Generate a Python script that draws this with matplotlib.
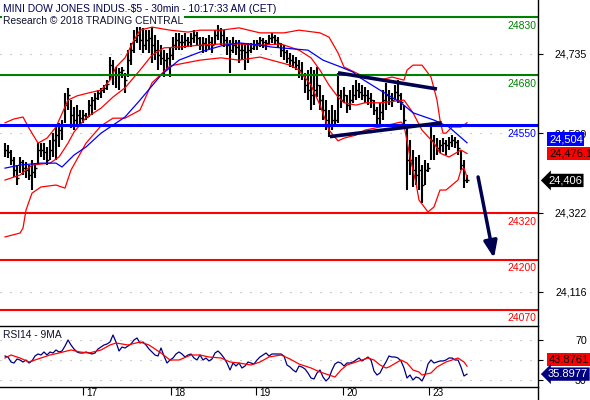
import matplotlib as mpl
import matplotlib.pyplot as plt
import matplotlib.transforms as mtransforms
from matplotlib.lines import Line2D
import numpy as np

mpl.rcParams['font.family'] = ['Liberation Sans', 'DejaVu Sans']

# 30min bars, mini dow
high = [24503, 24498, 24485, 24467, 24446, 24467, 24459, 24454, 24446, 24459,
        24451, 24503, 24503, 24503, 24493, 24511, 24529, 24545, 24556, 24563,
        24634, 24647, 24615, 24597, 24602, 24589, 24589, 24582, 24615, 24623,
        24634, 24641, 24647, 24654, 24667, 24727, 24719, 24701, 24699, 24701,
        24686, 24745, 24764, 24797, 24805, 24805, 24803, 24797, 24797, 24805,
        24784, 24771, 24758, 24745, 24738, 24751, 24779, 24790, 24790, 24784,
        24790, 24779, 24790, 24797, 24792, 24779, 24779, 24777, 24784, 24779,
        24797, 24810, 24803, 24797, 24779, 24771, 24779, 24771, 24771, 24764,
        24764, 24764, 24764, 24771, 24771, 24779, 24777, 24771, 24784, 24790,
        24784, 24779, 24764, 24758, 24745, 24738, 24732, 24727, 24719, 24714,
        24686, 24693, 24701, 24693, 24701, 24654, 24628, 24615, 24589, 24602,
        24589, 24686, 24641, 24649, 24628, 24641, 24654, 24667, 24660, 24654,
        24649, 24641, 24634, 24615, 24597, 24608, 24641, 24660, 24641, 24634,
        24654, 24667, 24634, 24602, 24550, 24511, 24485, 24467, 24472, 24446,
        24459, 24451, 24556, 24524, 24516, 24511, 24516, 24511, 24519, 24524,
        24519, 24511, 24485, 24459, 24420]
low = [24467, 24464, 24446, 24415, 24394, 24425, 24420, 24412, 24407, 24381,
       24412, 24446, 24467, 24459, 24446, 24459, 24467, 24459, 24493, 24511,
       24556, 24589, 24542, 24537, 24550, 24545, 24556, 24563, 24571, 24576,
       24589, 24615, 24621, 24634, 24641, 24667, 24654, 24647, 24641, 24673,
       24634, 24675, 24706, 24738, 24764, 24745, 24738, 24745, 24738, 24712,
       24719, 24693, 24706, 24675, 24693, 24675, 24719, 24745, 24745, 24745,
       24751, 24753, 24753, 24764, 24758, 24745, 24738, 24740, 24745, 24738,
       24758, 24771, 24758, 24753, 24732, 24686, 24738, 24732, 24712, 24719,
       24693, 24712, 24738, 24745, 24745, 24753, 24751, 24745, 24758, 24764,
       24758, 24753, 24727, 24719, 24712, 24701, 24699, 24693, 24673, 24667,
       24634, 24615, 24589, 24602, 24623, 24589, 24563, 24537, 24519, 24537,
       24550, 24556, 24595, 24608, 24582, 24589, 24608, 24615, 24621, 24615,
       24608, 24602, 24595, 24576, 24550, 24545, 24563, 24589, 24602, 24597,
       24615, 24608, 24589, 24545, 24381, 24420, 24389, 24394, 24381, 24347,
       24394, 24428, 24459, 24459, 24472, 24477, 24480, 24472, 24485, 24493,
       24490, 24472, 24433, 24386, 24399]
close = [24485, 24480, 24459, 24433, 24412, 24454, 24438, 24433, 24420, 24428,
         24438, 24485, 24485, 24480, 24459, 24485, 24511, 24524, 24537, 24550,
         24602, 24628, 24576, 24563, 24576, 24569, 24576, 24571, 24602, 24615,
         24621, 24634, 24641, 24647, 24657, 24706, 24693, 24680, 24688, 24693,
         24667, 24719, 24745, 24771, 24784, 24771, 24758, 24771, 24777, 24758,
         24745, 24732, 24725, 24719, 24725, 24732, 24758, 24771, 24766, 24766,
         24771, 24766, 24777, 24784, 24777, 24758, 24764, 24758, 24766, 24758,
         24784, 24797, 24784, 24771, 24758, 24745, 24758, 24753, 24745, 24745,
         24740, 24745, 24751, 24758, 24764, 24771, 24766, 24764, 24777, 24779,
         24771, 24764, 24745, 24740, 24725, 24719, 24714, 24706, 24693, 24680,
         24654, 24641, 24628, 24641, 24654, 24615, 24589, 24563, 24550, 24563,
         24563, 24628, 24615, 24628, 24602, 24615, 24628, 24641, 24636, 24628,
         24628, 24621, 24615, 24589, 24569, 24584, 24615, 24628, 24621, 24615,
         24636, 24628, 24610, 24563, 24459, 24459, 24433, 24420, 24433, 24394,
         24433, 24438, 24511, 24498, 24490, 24498, 24503, 24498, 24506, 24511,
         24506, 24490, 24446, 24407, 24406]

# bollinger bands and the slower average, read at a few bars
upper_i = [0, 3, 6, 8, 11, 14, 17, 21, 24, 28, 32, 35, 37, 40, 43, 45, 49, 55, 61, 65,
           72, 78, 85, 93, 98, 105, 108, 111, 113, 117, 120, 125, 129, 133, 134, 136,
           139, 142, 144, 145, 146, 147, 149, 152, 154]
upper_v = [24556, 24566, 24571, 24542, 24503, 24516, 24545, 24615, 24626, 24634,
           24641, 24667, 24701, 24725, 24771, 24797, 24805, 24797, 24792, 24797,
           24797, 24803, 24790, 24790, 24797, 24790, 24779, 24738, 24701, 24686,
           24675, 24667, 24675, 24667, 24693, 24706, 24706, 24675, 24615, 24563,
           24529, 24529, 24545, 24545, 24556]
mid_i = [0, 5, 9, 15, 18, 21, 23, 27, 32, 36, 40, 45, 49, 53, 58, 65, 72, 78, 85, 92,
         98, 102, 105, 108, 111, 113, 117, 120, 125, 133, 136, 139, 143, 145, 148, 152, 154]
mid_v = [24407, 24420, 24446, 24451, 24467, 24503, 24532, 24569, 24594, 24623,
         24647, 24693, 24732, 24751, 24753, 24758, 24761, 24761, 24758, 24761,
         24745, 24725, 24693, 24654, 24623, 24608, 24602, 24608, 24608, 24615,
         24582, 24537, 24503, 24477, 24467, 24485, 24476.1]
lower_i = [0, 5, 6, 7, 9, 12, 17, 20, 22, 27, 32, 36, 40, 45, 49, 55, 65, 72, 78, 85,
           95, 98, 102, 105, 108, 111, 113, 117, 120, 125, 132, 133, 135, 137, 138,
           141, 143, 145, 147, 151, 152, 153, 154]
lower_v = [24259, 24269, 24282, 24329, 24373, 24389, 24394, 24386, 24433, 24503,
           24548, 24568, 24568, 24589, 24660, 24704, 24719, 24725, 24719, 24727,
           24706, 24693, 24654, 24602, 24537, 24509, 24516, 24524, 24537, 24545,
           24558, 24550, 24467, 24399, 24355, 24324, 24337, 24381, 24381, 24407,
           24433, 24438, 24415]
ma_i = [0, 5, 12, 17, 19, 23, 27, 32, 36, 40, 45, 52, 58, 65, 72, 78, 85, 89, 101, 106,
        112, 116, 118, 125, 132, 136, 143, 148, 154]
ma_v = [24438, 24446, 24451, 24451, 24441, 24472, 24493, 24529, 24550, 24571,
        24615, 24680, 24719, 24740, 24756, 24764, 24758, 24753, 24745, 24719,
        24701, 24688, 24675, 24641, 24608, 24582, 24563, 24545, 24504]

rsi = [54, 53, 48, 47, 51, 50, 48, 50, 47, 49,
       54, 56, 55, 58, 55, 58, 57, 60, 58, 59,
       64, 70, 65, 61, 58, 57, 57, 58, 57, 56,
       57, 61, 63, 65, 66, 68, 75, 68, 59, 63,
       62, 64, 66, 70, 72, 67, 68, 65, 61, 58,
       55, 54, 62, 54, 47, 50, 52, 56, 58, 56,
       53, 55, 56, 52, 50, 55, 50, 52, 49, 51,
       57, 59, 56, 52, 47, 40, 47, 44, 47, 42,
       44, 48, 47, 46, 50, 53, 55, 57, 54, 56,
       56, 56, 56, 54, 45, 43, 40, 38, 44, 43,
       41, 37, 32, 31, 37, 40, 33, 29, 32, 40,
       46, 48, 47, 44, 47, 47, 48, 50, 52, 49,
       51, 53, 50, 39, 35, 37, 43, 48, 54, 53,
       53, 52, 49, 42, 32, 35, 30, 33, 32, 29,
       35, 46, 50, 47, 48, 49, 49, 50, 52, 52,
       50, 50, 43, 34, 35.8977]
rsi_ma_i = [0, 2, 5, 8, 12, 15, 18, 22, 25, 28, 32, 35, 37, 41, 45, 48, 52, 55, 58, 62,
            65, 68, 72, 75, 78, 82, 85, 88, 92, 95, 98, 102, 105, 108, 110, 112, 114,
            117, 121, 123, 125, 127, 128, 132, 134, 136, 138, 139, 142, 144, 147, 151,
            153, 154]
rsi_ma_v = [52, 55, 52, 48, 52, 55, 57, 60, 58, 57, 60, 65, 67, 65, 68, 65, 57, 50, 50, 55,
            55, 53, 52, 48, 47, 45, 48, 53, 55, 51, 46, 42, 38, 35, 33, 40, 45,
            48, 52, 50, 45, 42, 43, 50, 47, 40, 38, 35, 37, 43, 48, 52,
            48, 43.8761]

levels = [24830, 24680, 24550, 24320, 24200, 24070]
price_ticks = [24116, 24322, 24529, 24735]
day_pos = [26, 55.2, 83.7, 112.7, 141.4]
day_labels = ['17', '18', '19', '20', '23']

# analyst drawings
tri_top = ([111, 144], [24686, 24644])
tri_bottom = ([108.3, 145.6], [24520, 24556])
target_arrow = ([157.7, 163.0], [24415, 24204])

W, H = 590.0, 400.0
fig = plt.figure(figsize=(5.9, 4.0), dpi=100)
ax = fig.add_axes([0, 1 - 326 / H, 538 / W, 326 / H])
ax2 = fig.add_axes([0, 1 - 387 / H, 538 / W, 61 / H], sharex=ax)

x = np.arange(len(close))
ax.vlines(x, low, high, color='black', lw=1.5, zorder=2)
ax.hlines(close, x, x + 0.8, color='black', lw=1.0, zorder=2)

ax.plot(upper_i, upper_v, color='#ff0000', lw=0.9, zorder=3)
ax.plot(mid_i, mid_v, color='#ff0000', lw=0.9, zorder=3)
ax.plot(lower_i, lower_v, color='#ff0000', lw=0.9, zorder=3)
ax.plot(ma_i, ma_v, color='#0000ff', lw=0.9, zorder=3)

lv_colors = ['#008000', '#008000', '#0000ff', '#ff0000', '#ff0000', '#ff0000']
lv_widths = [1.5, 1.5, 2.2, 1.5, 1.5, 1.5]
for lv, c, w in zip(levels, lv_colors, lv_widths):
    ax.axhline(lv, color=c, lw=w, zorder=4)
    ax.annotate(str(lv), xy=(1, lv), xycoords=('axes fraction', 'data'),
                xytext=(-1, -2.5), textcoords='offset points', ha='right', va='top',
                color=c, fontsize=7.5, zorder=6)

ax.plot(*tri_top, color='#000050', lw=2.6, zorder=5, solid_capstyle='butt')
ax.plot(*tri_bottom, color='#000050', lw=2.6, zorder=5, solid_capstyle='butt')
ax.annotate('', xy=(target_arrow[0][1], target_arrow[1][1]),
            xytext=(target_arrow[0][0], target_arrow[1][0]),
            arrowprops=dict(arrowstyle='-|>,head_length=1.0,head_width=0.4',
                            color='#000050', lw=2.5, shrinkA=0, shrinkB=0),
            annotation_clip=False, zorder=5)

ax.set_xlim(-1.67, 177.67)
ax.set_ylim(24027.2, 24875.5)
ax2.set_ylim(23, 84)

dots = (0, (1, 8))
for a in (ax, ax2):
    a.grid(axis='y', color='#a8a8a8', linestyle=dots, lw=0.8)
    a.set_axisbelow(True)
    a.yaxis.tick_right()
    for s in ('left', 'right'):
        a.spines[s].set_visible(False)
for s in ax.spines.values():
    s.set_visible(False)
ax2.spines['top'].set_linewidth(1.0)
ax2.spines['bottom'].set_linewidth(1.0)

ax.set_yticks(price_ticks)
ax.set_yticklabels([f'{v:,}' for v in price_ticks])
ax2.set_yticks([30, 50, 70])
ax2.set_yticklabels(['30', '50', '70'])
for a in (ax, ax2):
    a.tick_params(axis='y', direction='out', length=3.6, width=0.8, pad=31.5,
                  labelsize=7.7, right=True, left=False)
    plt.setp(a.get_yticklabels(), ha='right')
ax.tick_params(axis='x', bottom=False, labelbottom=False)

ax2.plot(x, rsi, color='#000080', lw=0.9)
ax2.plot(rsi_ma_i, rsi_ma_v, color='#ff0000', lw=0.9)
ax2.set_xticks(day_pos)
ax2.set_xticklabels(day_labels)
ax2.tick_params(axis='x', direction='out', length=5.5, width=0.8, pad=-4.5, labelsize=7.2)
shift = mtransforms.ScaledTranslation(2.5 / 72, 0, fig.dpi_scale_trans)
for lbl in ax2.get_xticklabels():
    lbl.set_ha('left')
    lbl.set_transform(lbl.get_transform() + shift)


def tag(a, y, text, fc, tc, style='square,pad=0.15', dy=0, dx=7.9):
    a.annotate(text, xy=(1, y), xycoords=('axes fraction', 'data'),
               xytext=(dx, dy), textcoords='offset points', ha='left', va='center',
               fontsize=8, color=tc, annotation_clip=False, zorder=10,
               bbox=dict(boxstyle=style, fc=fc, ec='none'))


tag(ax, ma_v[-1], f'{ma_v[-1]:,.0f}', '#0000ff', 'white', dy=2.7)
tag(ax, mid_v[-1], f'{mid_v[-1]:,.1f}', '#ff0000', 'black')
tag(ax, close[-1], f'{close[-1]:,.0f}', 'black', 'white', style='larrow,pad=0.15', dx=7.2)
tag(ax2, rsi_ma_v[-1], f'{rsi_ma_v[-1]:.4f}', '#ff0000', 'black', dy=4.7)
tag(ax2, rsi[-1], f'{rsi[-1]:.4f}', '#000080', 'white', style='larrow,pad=0.15', dx=7.2)

fig.add_artist(Line2D([538 / W, 538 / W], [0, 1], color='black', lw=1.0,
                      transform=fig.transFigure))

fig.text(3 / W, 1 - 11.5 / H, 'MINI DOW JONES INDUS.-$5 - 30min - 10:17:33 AM (CET)',
         ha='left', va='baseline', fontsize=7.4, color='#000050',
         bbox=dict(fc='white', ec='none', pad=0.6))
fig.text(3 / W, 1 - 23.5 / H, 'Research \u00a9 2018 TRADING CENTRAL',
         ha='left', va='baseline', fontsize=7.4, color='#101030',
         bbox=dict(fc='white', ec='none', pad=0.6))
fig.text(3 / W, 1 - 338.5 / H, 'RSI14 - 9MA', ha='left', va='baseline',
         fontsize=7.4, color='#101030')

fig.savefig('out.png', dpi=100)
